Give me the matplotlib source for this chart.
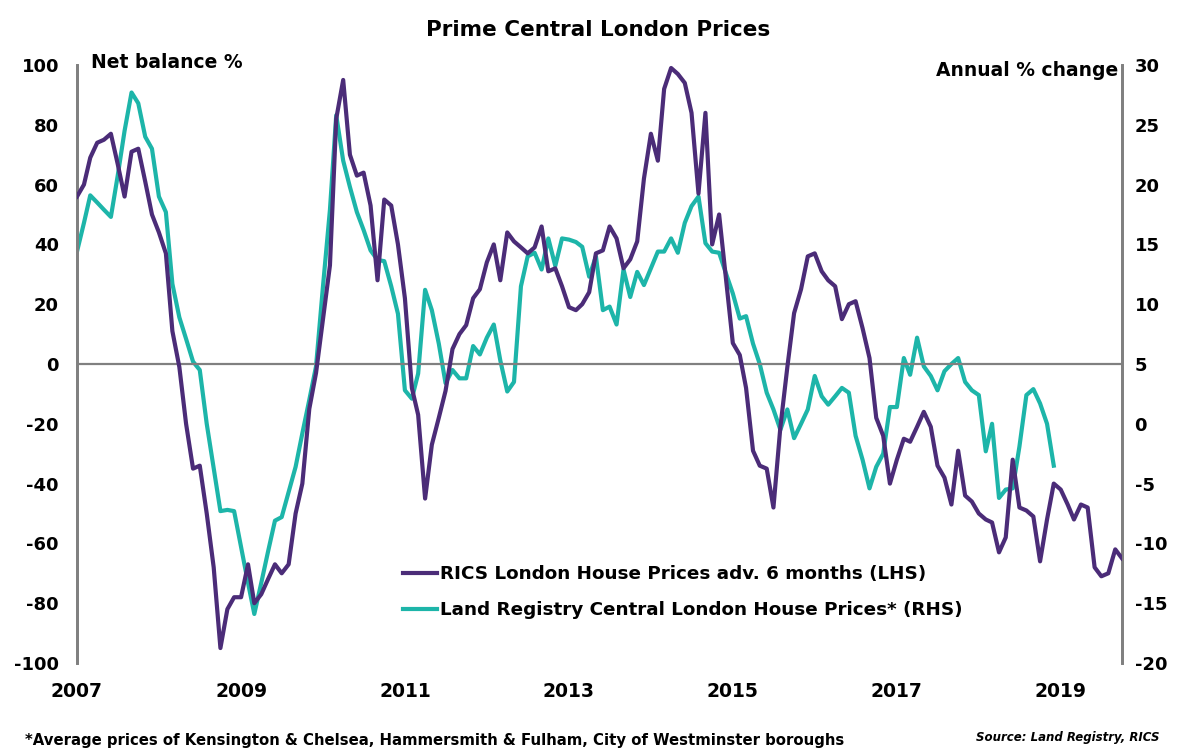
import pandas as pd
import matplotlib
matplotlib.use('Agg')
import matplotlib.pyplot as plt
import matplotlib.dates as mdates

plt.rcParams['font.family'] = ['DejaVu Sans']
plt.rcParams['axes.unicode_minus'] = False

# RICS London house price expectations, net balance %, monthly from Jan 2007
rics = [56, 60, 69, 74, 75, 77, 67, 56, 71, 72, 61, 50,
        44, 37, 11, -1, -20, -35, -34, -50, -68, -95, -82, -78,
        -78, -67, -80, -77, -72, -67, -70, -67, -50, -40, -15, -3,
        15, 33, 82, 95, 70, 63, 64, 53, 28, 55, 53, 40,
        22, -8, -17, -45, -27, -18, -9, 5, 10, 13, 22, 25,
        34, 40, 28, 44, 41, 39, 37, 39, 46, 31, 32, 26,
        19, 18, 20, 24, 37, 38, 46, 42, 32, 35, 41, 62,
        77, 68, 92, 99, 97, 94, 84, 57, 84, 40, 50, 29,
        7, 3, -8, -29, -34, -35, -48, -21, -1, 17, 25, 36,
        37, 31, 28, 26, 15, 20, 21, 12, 2, -18, -24, -40,
        -32, -25, -26, -21, -16, -21, -34, -38, -47, -29, -44, -46,
        -50, -52, -53, -63, -58, -32, -48, -49, -51, -66, -52, -40,
        -42, -47, -52, -47, -48, -68, -71, -70, -62, -65]

# Land Registry central London prices, annual % change, monthly from Jan 2007
land_reg = [14.4, 16.8, 19.1, 18.5, 17.9, 17.3, 20.7, 24.5, 27.7, 26.8, 24.0, 23.0,
            19.0, 17.7, 11.7, 8.9, 7.1, 5.2, 4.5, 0.0, -3.7, -7.3, -7.2, -7.3,
            -10.3, -13.3, -15.9, -13.3, -10.7, -8.1, -7.8, -5.7, -3.6, -0.8, 2.0, 4.8,
            11.5, 17.9, 25.8, 22.0, 19.8, 17.7, 16.2, 14.5, 13.7, 13.6, 11.5, 9.2,
            2.8, 2.1, 4.2, 11.2, 9.5, 6.7, 3.4, 4.5, 3.8, 3.8, 6.5, 5.8,
            7.2, 8.3, 5.3, 2.7, 3.5, 11.5, 14.0, 14.3, 12.9, 15.5, 13.2, 15.5,
            15.4, 15.2, 14.8, 12.3, 14.0, 9.5, 9.8, 8.3, 12.9, 10.6, 12.7, 11.6,
            13.0, 14.4, 14.4, 15.5, 14.3, 16.8, 18.2, 19.0, 15.1, 14.4, 14.3, 12.6,
            10.9, 8.8, 9.0, 6.7, 5.0, 2.6, 1.2, -0.5, 1.2, -1.2, 0.0, 1.2,
            4.0, 2.3, 1.6, 2.3, 3.0, 2.6, -1.0, -3.0, -5.4, -3.6, -2.5, 1.4,
            1.4, 5.5, 4.1, 7.2, 4.8, 4.0, 2.8, 4.4, 5.0, 5.5, 3.5, 2.8,
            2.4, -2.3, 0.0, -6.2, -5.5, -5.4, -1.9, 2.4, 2.9, 1.7, 0.0, -3.5]

rics_label = 'RICS London House Prices adv. 6 months (LHS)'
lr_label = 'Land Registry Central London House Prices* (RHS)'
year_ticks = ['2007', '2009', '2011', '2013', '2015', '2017', '2019']

purple = '#4b2c78'
teal = '#1db5a9'
grey = '#808080'

rics_dates = pd.date_range('2007-01-01', periods=len(rics), freq='MS')
lr_dates = pd.date_range('2007-01-01', periods=len(land_reg), freq='MS')

fig = plt.figure(figsize=(11.8, 7.51), dpi=100)
ax = fig.add_axes([77/1180, 1 - 663/751, (1122 - 77)/1180, (663 - 65)/751])
ax2 = ax.twinx()

ax.axhline(0, color=grey, lw=1.6, zorder=1)
l1, = ax.plot(rics_dates, rics, color=purple, lw=3, zorder=3)
l2, = ax2.plot(lr_dates, land_reg, color=teal, lw=3, zorder=2)
ax.set_zorder(ax2.get_zorder() + 1)
ax.patch.set_visible(False)

ax.set_ylim(-100, 100)
ax.set_yticks(range(-100, 101, 20))
ax2.set_ylim(-20, 30)
ax2.set_yticks(range(-20, 31, 5))
ax.set_xlim(rics_dates[0], rics_dates[-1])
ax.set_xticks([pd.Timestamp(y + '-01-01') for y in year_ticks])
ax.xaxis.set_major_formatter(mdates.DateFormatter('%Y'))

for a in (ax, ax2):
    for s in ('top', 'bottom'):
        a.spines[s].set_visible(False)
    a.spines['left'].set_color(grey)
    a.spines['right'].set_color(grey)
    a.spines['left'].set_linewidth(2)
    a.spines['right'].set_linewidth(2)
    a.tick_params(length=0, labelsize=13)
    for lab in a.get_xticklabels() + a.get_yticklabels():
        lab.set_fontweight('bold')

ax.tick_params(axis='x', labelsize=13.5, pad=14)
ax.tick_params(axis='y', pad=13)
ax2.tick_params(axis='y', pad=9)

fig.text(598/1180, 1 - 30/751, 'Prime Central London Prices', ha='center', va='center',
         fontsize=15.5, fontweight='bold')
fig.text(91/1180, 1 - 63/751, 'Net balance %', ha='left', va='center',
         fontsize=13.5, fontweight='bold')
fig.text(1118/1180, 1 - 71/751, 'Annual % change', ha='right', va='center',
         fontsize=13.5, fontweight='bold')

fig.legend([l1, l2], [rics_label, lr_label], loc='center left',
           bbox_to_anchor=(403/1180, 1 - 592/751), frameon=False,
           prop={'size': 13.2, 'weight': 'bold'}, handlelength=1.85,
           handletextpad=0.15, labelspacing=0.98, borderpad=0, borderaxespad=0)

fig.text(25/1180, 1 - 741/751,
         '*Average prices of Kensington & Chelsea, Hammersmith & Fulham, City of Westminster boroughs',
         ha='left', va='center', fontsize=10.7, fontweight='bold')
fig.text(1160/1180, 1 - 738/751, 'Source: Land Registry, RICS', ha='right', va='center',
         fontsize=8.5, fontweight='bold', style='italic')

fig.savefig('out.png', dpi=100)
